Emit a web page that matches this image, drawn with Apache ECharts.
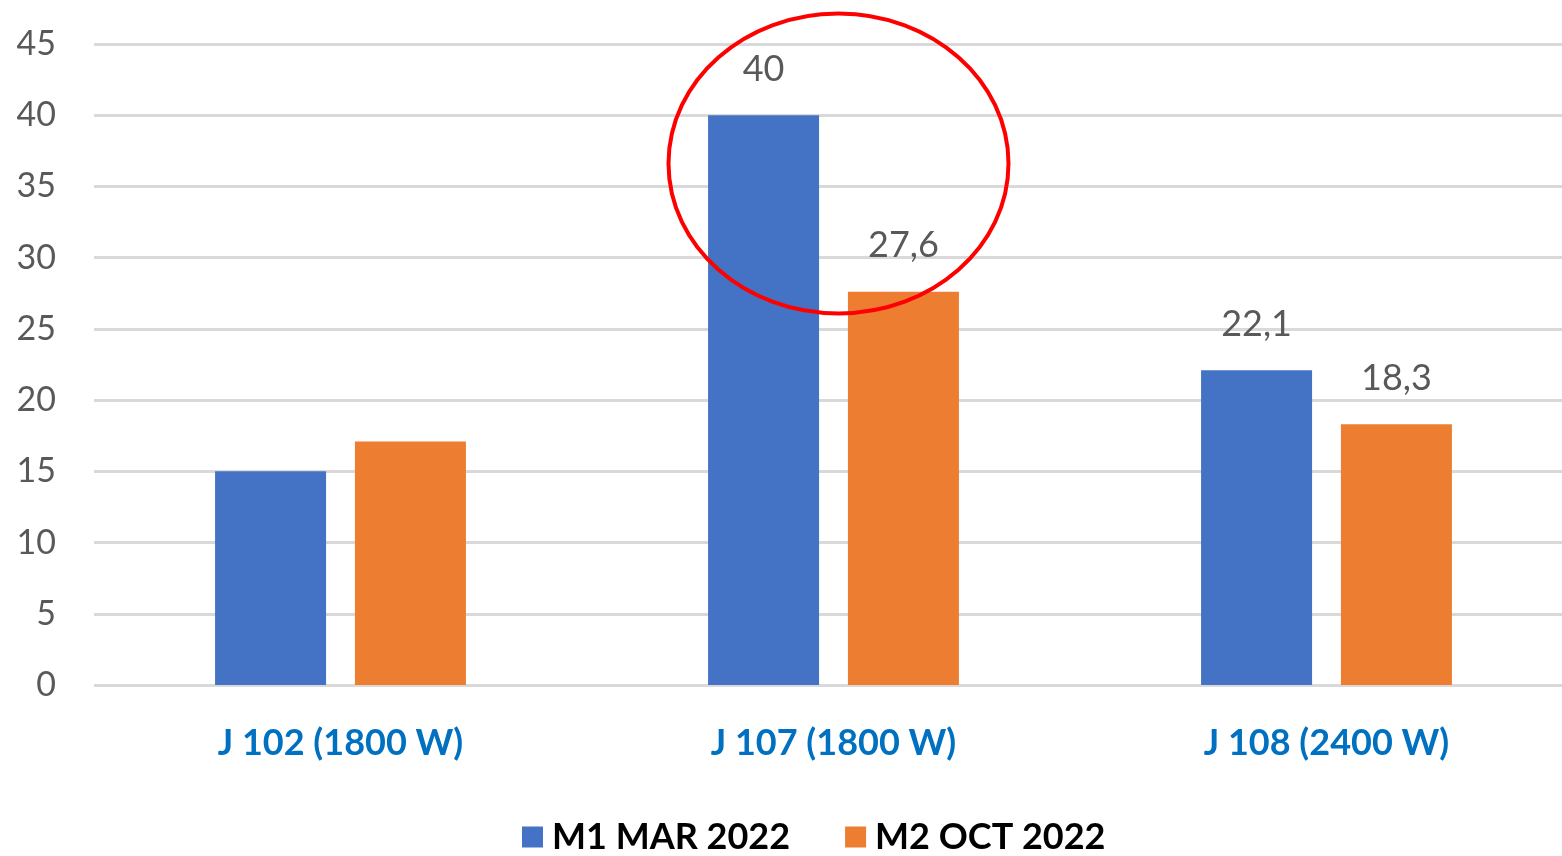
<!DOCTYPE html>
<html>
<head>
<meta charset="utf-8">
<script src="https://cdn.jsdelivr.net/npm/echarts@6/dist/echarts.min.js"></script>
<style>
    html, body { margin: 0; padding: 0; background: #fff; overflow: hidden; }
    /* plot area runs a little past the right edge, as in the source picture */
    #chart { width: 1573px; height: 856px; }
</style>
</head>
<body>
<div id="chart"></div>
<script>
    // categories and series
    const categories = ['J 102 (1800 W)', 'J 107 (1800 W)', 'J 108 (2400 W)'];
    const m1Values = [15, 40, 22.1];
    const m2Values = [17.1, 27.6, 18.3];
    const seriesNames = ['M1 MAR 2022', 'M2 OCT 2022'];
    // which bars carry a value label (the first group has none)
    const showLabel = [false, true, true];
    const yTicks = [0, 5, 10, 15, 20, 25, 30, 35, 40, 45];

    const font = 'Lato, "Open Sans", sans-serif';

    function toItems(values) {
        return values.map((v, i) => ({ value: v, label: { show: showLabel[i] } }));
    }

    let myChart = echarts.init(document.getElementById('chart'));
    let option = {
        backgroundColor: '#fff',
        animation: false,
        color: ['#4472C4', '#ED7D31'],
        grid: {
            left: 94,
            right: 0,
            top: 44,
            bottom: 171,
            containLabel: false
        },
        legend: {
            bottom: -4,
            left: 517,
            icon: 'rect',
            itemWidth: 21,
            itemHeight: 21,
            itemGap: 55,
            data: seriesNames,
            textStyle: {
                fontFamily: font,
                fontSize: 36,
                fontWeight: 'bold',
                color: '#000',
                padding: [0, 0, 0, 4]
            }
        },
        xAxis: {
            type: 'category',
            data: categories,
            axisLine: { show: false },
            axisTick: { show: false },
            axisLabel: {
                margin: 40,
                fontFamily: font,
                fontSize: 36,
                fontWeight: 'bold',
                color: '#0070C0'
            }
        },
        yAxis: {
            type: 'value',
            min: yTicks[0],
            max: yTicks[yTicks.length - 1],
            interval: 5,
            axisLine: { show: false },
            axisTick: { show: false },
            splitLine: { lineStyle: { color: '#d9d9d9', width: 3 } },
            axisLabel: {
                margin: 38,
                fontFamily: font,
                fontSize: 34,
                color: '#595959'
            }
        },
        series: [m1Values, m2Values].map((vals, k) => ({
            name: seriesNames[k],
            type: 'bar',
            barWidth: 111,
            barGap: '26%',
            data: toItems(vals),
            label: {
                position: 'top',
                distance: 28,
                fontFamily: font,
                fontSize: 36,
                color: '#595959',
                formatter: p => String(p.value).replace('.', ',')
            }
        })),
        // red hand-drawn highlight around the J 107 group
        graphic: [{
            type: 'ellipse',
            shape: { cx: 838.5, cy: 163.5, rx: 170, ry: 150 },
            style: { fill: 'none', stroke: '#FF0000', lineWidth: 4 },
            z: 100
        }]
    };
    myChart.setOption(option);
</script>
</body>
</html>
